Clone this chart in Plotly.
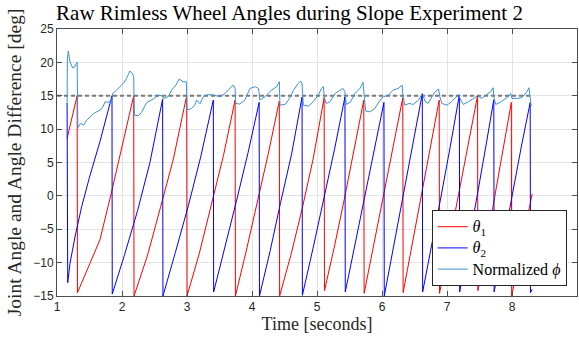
import plotly.graph_objects as go

# theta_1 (red) time/value samples
t1 = [1.155, 1.23, 1.31,
      1.315, 1.50, 1.66, 1.84, 2.02, 2.18,
      2.185, 2.39, 2.59, 2.79, 2.995,
      3.0, 3.19, 3.37, 3.56, 3.74,
      3.745, 3.91, 4.08, 4.25, 4.42,
      4.425, 4.60, 4.77, 4.94, 5.11,
      5.115, 5.27, 5.42, 5.57, 5.72,
      5.725, 5.87, 6.02, 6.17, 6.32,
      6.325, 6.46, 6.60, 6.74, 6.88,
      6.885, 7.03, 7.18, 7.32, 7.47,
      7.475, 7.60, 7.73, 7.86, 7.99,
      7.995, 8.15, 8.31]
v1 = [8.6, 11.8, 15.0,
      -14.5, -10.3, -6.6, 0.6, 8.0, 15.0,
      -15, -9.0, -1.8, 5.5, 15.0,
      -15, -8.6, -1.5, 6.0, 14.35,
      -15, -8.3, -1.0, 6.3, 14.2,
      -15, -8.8, -2.0, 5.5, 14.7,
      -14.2, -7.5, -0.5, 6.8, 14.35,
      -14.6, -7.6, -0.3, 7.0, 14.7,
      -14.5, -7.5, -0.3, 7.0, 14.35,
      -14.6, -7.4, 0.0, 7.4, 15.0,
      -14.2, -7.5, -0.3, 6.8, 14.0,
      -15, -7.3, 0.3]

# theta_2 (blue)
t2 = [1.155, 1.16,
      1.165, 1.20, 1.28, 1.38, 1.50, 1.66, 1.846,
      1.85, 2.04, 2.24, 2.43, 2.625,
      2.63, 2.82, 3.02, 3.21, 3.405,
      3.41, 3.585, 3.76, 3.94, 4.11,
      4.115, 4.28, 4.44, 4.61, 4.77,
      4.775, 4.94, 5.10, 5.27, 5.43,
      5.435, 5.58, 5.73, 5.88, 6.03,
      6.035, 6.18, 6.33, 6.47, 6.62,
      6.625, 6.77, 6.91, 7.05, 7.19,
      7.195, 7.33, 7.46, 7.59, 7.72,
      7.725, 7.86, 8.00, 8.14, 8.28,
      8.285, 8.31]
v2 = [13.9, -13.0,
      -13.0, -10.1, -6.0, -1.6, 2.8, 8.1, 15.0,
      -14.7, -8.8, -2.2, 5.0, 14.5,
      -15, -8.5, -1.5, 5.8, 14.35,
      -14.4, -7.8, -0.8, 6.5, 14.0,
      -15, -8.2, -1.0, 6.3, 14.8,
      -14.9, -7.8, -0.6, 7.0, 14.8,
      -14.4, -7.5, -0.3, 6.8, 14.0,
      -15, -7.6, 0.0, 7.6, 15.3,
      -14.4, -7.3, 0.0, 7.4, 15.1,
      -14.4, -7.4, -0.2, 7.0, 14.4,
      -14.4, -7.3, 0.0, 7.2, 14.0,
      -14.5, -14.0]

# Normalized phi (light blue)
tp = [1.155, 1.16, 1.174, 1.20, 1.24, 1.27, 1.303, 1.31, 1.32, 1.36, 1.41, 1.457,
      1.51, 1.56, 1.61, 1.66, 1.70, 1.74, 1.78, 1.815, 1.84, 1.857, 1.89, 1.95,
      1.995, 2.03, 2.07, 2.12, 2.16, 2.18, 2.19, 2.25, 2.30, 2.38, 2.43, 2.48,
      2.56, 2.61, 2.64, 2.71, 2.765, 2.83, 2.88, 2.94, 2.99, 3.0, 3.07, 3.12,
      3.15, 3.2, 3.25, 3.33, 3.405, 3.51, 3.585, 3.66, 3.71, 3.74, 3.75, 3.815,
      3.89, 3.97, 4.05, 4.10, 4.12, 4.2, 4.30, 4.38, 4.42, 4.43, 4.51, 4.56,
      4.64, 4.71, 4.75, 4.77, 4.79, 4.87, 4.94, 5.02, 5.07, 5.10, 5.11, 5.14,
      5.2, 5.28, 5.35, 5.40, 5.43, 5.45, 5.51, 5.585, 5.66, 5.71, 5.72, 5.75,
      5.815, 5.89, 5.97, 6.02, 6.10, 6.17, 6.25, 6.31, 6.32, 6.35, 6.42, 6.48,
      6.56, 6.61, 6.64, 6.66, 6.71, 6.765, 6.815, 6.87, 6.89, 6.92, 7.0, 7.07,
      7.14, 7.18, 7.2, 7.25, 7.33, 7.40, 7.47, 7.53, 7.61, 7.67, 7.71, 7.72,
      7.75, 7.815, 7.89, 7.97, 7.98, 8.0, 8.07, 8.15, 8.23, 8.26, 8.28, 8.29, 8.31]
vp = [13.6, 20.5, 21.7, 20.1, 19.2, 19.3, 19.95, 20.0, 10.2, 10.85, 10.6, 11.35,
      11.8, 12.35, 12.6, 12.85, 13.2, 14.1, 14.0, 14.2, 14.1, 15.35, 15.6, 16.1,
      16.6, 17.0, 17.6, 18.7, 18.35, 17.85, 12.1, 12.0, 12.5, 14.0, 14.2, 14.5,
      15.1, 15.0, 14.6, 14.85, 15.85, 16.6, 17.5, 17.1, 17.1, 12.85, 13.1, 13.6,
      14.35, 13.8, 14.85, 15.2, 15.1, 14.85, 15.35, 16.2, 16.6, 16.1, 13.85, 13.75,
      14.35, 16.1, 16.35, 16.1, 14.35, 14.85, 15.85, 16.35, 17.1, 13.6, 13.7, 14.35,
      15.85, 16.85, 17.2, 16.85, 13.6, 13.45, 14.1, 15.1, 16.1, 16.35, 14.85, 13.85,
      14.1, 15.35, 15.85, 16.1, 15.6, 13.7, 14.0, 15.35, 16.1, 17.0, 15.6, 12.7,
      12.6, 13.1, 14.35, 14.85, 15.1, 15.85, 16.1, 16.6, 15.1, 13.6, 13.85, 13.7,
      14.35, 15.1, 14.85, 14.2, 13.85, 14.85, 15.6, 16.0, 14.85, 13.85, 13.6, 14.1,
      14.85, 15.2, 14.6, 13.7, 14.1, 14.5, 15.0, 14.6, 15.1, 15.6, 16.2, 14.85,
      13.7, 14.0, 14.5, 15.1, 15.35, 14.6, 14.6, 14.7, 15.6, 16.2, 14.85, 13.6, 13.6]

# reference level
ref_t = [1.0, 8.32]
ref_v = [15, 15]

x_ticks = [1, 2, 3, 4, 5, 6, 7, 8, 9]
y_ticks = [-15, -10, -5, 0, 5, 10, 15, 20, 25]

SERIF = "Liberation Serif, Times New Roman, serif"
SANS = "Liberation Sans, Arial, sans-serif"


def big(s):
    return "<span style='font-size:16px'>" + s + "</span>"


fig = go.Figure()
fig.add_trace(go.Scatter(x=ref_t, y=ref_v, mode="lines", showlegend=False,
                         line=dict(color="#7a7a7a", width=2, dash="4px,3px"), hoverinfo="skip"))
fig.add_trace(go.Scatter(x=t1, y=v1, mode="lines", name=big("<i>θ</i><sub>1</sub>"),
                         line=dict(color="#ff0000", width=1)))
fig.add_trace(go.Scatter(x=t2, y=v2, mode="lines", name=big("<i>θ</i><sub>2</sub>"),
                         line=dict(color="#0000ff", width=1)))
fig.add_trace(go.Scatter(x=tp, y=vp, mode="lines", name=big("Normalized <i>ϕ</i>"),
                         line=dict(color="#3a93d4", width=1)))

axis_common = dict(showgrid=True, gridcolor="#e3e3e3", gridwidth=1, zeroline=False,
                   showline=True, linecolor="#4d4d4d", linewidth=1, mirror="ticks",
                   ticks="inside", ticklen=5, tickcolor="#4d4d4d",
                   tickfont=dict(family=SANS, size=12, color="#262626"))

fig.update_layout(
    width=579, height=339,
    margin=dict(l=57, r=2, t=29, b=43),
    paper_bgcolor="white", plot_bgcolor="white",
    title=dict(text="Raw Rimless Wheel Angles during Slope Experiment 2",
               x=0.5, xref="container", xanchor="center", y=0.962, yref="container", yanchor="middle",
               font=dict(family=SERIF, size=21, color="black")),
    xaxis=dict(range=[1, 9], tickvals=x_ticks, **axis_common,
               title=dict(text="Time [seconds]", font=dict(family=SERIF, size=18, color="#262626"), standoff=3)),
    yaxis=dict(range=[-15, 25], tickvals=y_ticks, **axis_common,
               title=dict(text="Joint Angle and Angle Difference [deg]",
                          font=dict(family=SERIF, size=19.5, color="#262626"), standoff=6)),
    legend=dict(x=0.98, y=0.037, xanchor="right", yanchor="bottom",
                bgcolor="white", bordercolor="#262626", borderwidth=1,
                font=dict(family=SERIF, size=14, color="black"),
                tracegroupgap=0, itemwidth=30),
    showlegend=True,
)

fig.write_html("out.html")
